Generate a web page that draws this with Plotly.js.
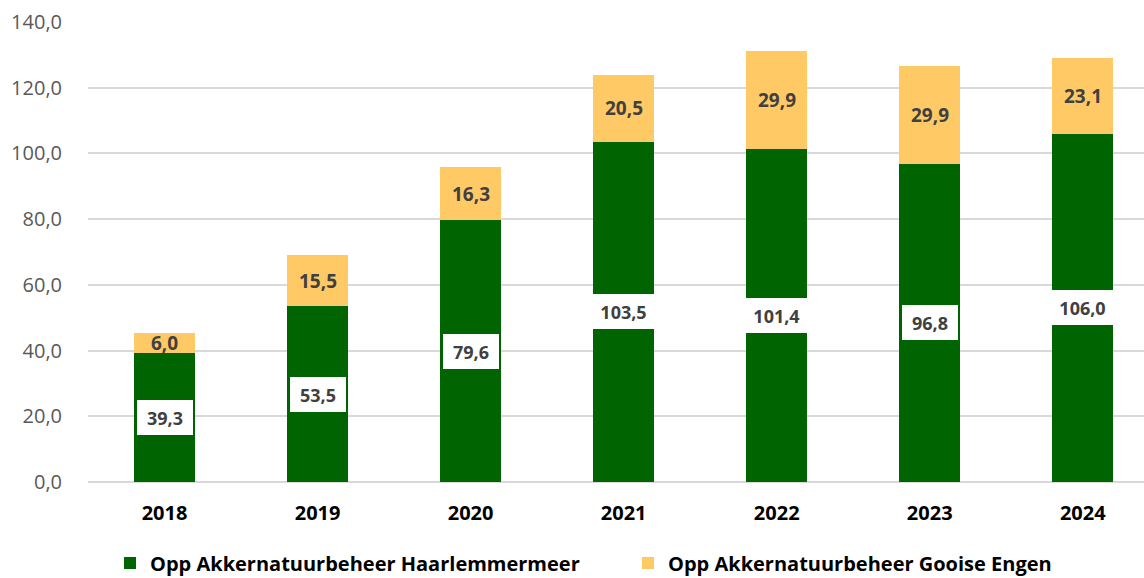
<!DOCTYPE html>
<html>
<head>
<meta charset="utf-8">
<script src="https://cdn.plot.ly/plotly-3.0.1.min.js"></script>
<style>
html,body{margin:0;padding:0;background:#fff;}
#chart{width:1144px;height:578px;}
</style>
</head>
<body>
<div id="chart"></div>
<script>
const years = ['2018','2019','2020','2021','2022','2023','2024'];
const haarlemmermeer = [39.3, 53.5, 79.6, 103.5, 101.4, 96.8, 106.0];
const gooiseEngen = [6.0, 15.5, 16.3, 20.5, 29.9, 29.9, 23.1];
const seriesNames = ['Opp Akkernatuurbeheer Haarlemmermeer', 'Opp Akkernatuurbeheer Gooise Engen'];
const yTicks = [0, 20, 40, 60, 80, 100, 120, 140];

const FONT = '"Open Sans", "Noto Sans", sans-serif';
const fmt = v => v.toFixed(1).replace('.', ',');

const traces = [
  {type:'bar', name: seriesNames[0], x: years, y: haarlemmermeer,
   marker:{color:'#006400'}, width:0.4, hoverinfo:'skip', legend:'legend'},
  {type:'bar', name: seriesNames[1], x: years, y: gooiseEngen,
   marker:{color:'#FFC966'}, width:0.4, hoverinfo:'skip', legend:'legend2'}
];

const annotations = [];
years.forEach((yr, i) => {
  const lbl = fmt(haarlemmermeer[i]);
  annotations.push({x: i, y: haarlemmermeer[i]/2, xref:'x', yref:'y',
    text: '<b>' + lbl + '</b>', showarrow:false,
    bgcolor:'#ffffff', borderpad:6, borderwidth:0, height:23, width: lbl.length * 11,
    font:{family:FONT, size:18, color:'#404040'}});
  annotations.push({x: i, y: haarlemmermeer[i] + gooiseEngen[i]/2, xref:'x', yref:'y',
    text: '<b>' + fmt(gooiseEngen[i]) + '</b>', showarrow:false,
    font:{family:FONT, size:19, color:'#404040'}});
});

const legendFont = {family:FONT, size:20, color:'#000000', weight:'bold'};
const layout = {
  width:1144, height:578,
  margin:{l:88, r:0, t:22, b:96},
  barmode:'stack',
  separators:',.',
  paper_bgcolor:'#ffffff', plot_bgcolor:'#ffffff',
  font:{family:FONT, color:'#000000'},
  xaxis:{type:'category', range:[-0.5, 6.4], showgrid:false, showline:false,
    zeroline:false, ticks:'', ticklabelstandoff:17,
    tickfont:{family:FONT, size:20, color:'#000000', weight:'bold'}},
  yaxis:{range:[0,140], tickvals:yTicks, tickformat:'.1f', showgrid:true,
    gridcolor:'#D9D9D9', gridwidth:2, zeroline:true, zerolinecolor:'#D9D9D9', zerolinewidth:2,
    showline:false, ticks:'', ticklabelstandoff:25,
    tickfont:{family:FONT, size:20, color:'#595959'}},
  showlegend:true,
  legend:{orientation:'h', x:110/1144, xref:'container', xanchor:'left',
    y:15/578, yref:'container', yanchor:'middle', font:legendFont, bgcolor:'rgba(0,0,0,0)'},
  legend2:{orientation:'h', x:628/1144, xref:'container', xanchor:'left',
    y:15/578, yref:'container', yanchor:'middle', font:legendFont, bgcolor:'rgba(0,0,0,0)'},
  annotations: annotations
};

Plotly.newPlot('chart', traces, layout, {displayModeBar:false, staticPlot:true});
</script>
</body>
</html>
